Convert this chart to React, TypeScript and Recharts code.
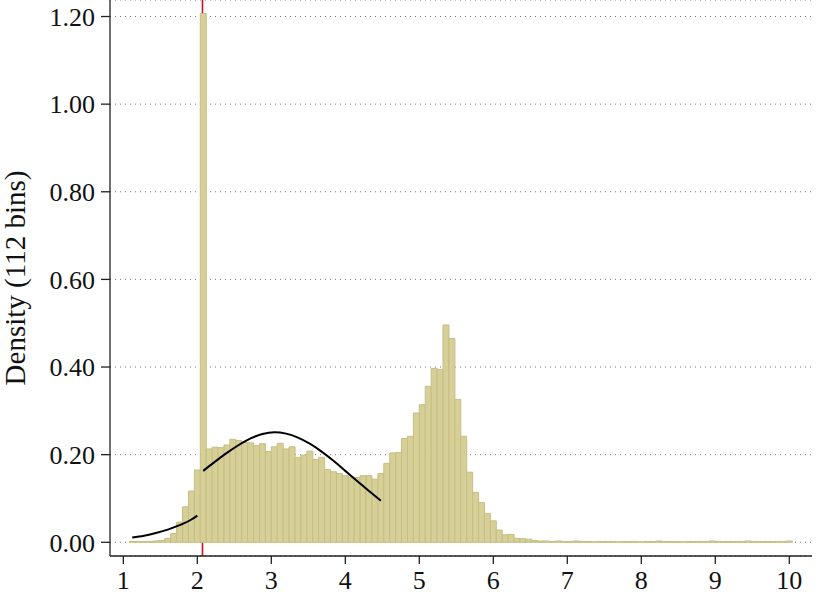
import { ComposedChart, Bar, Line, XAxis, YAxis, CartesianGrid, ReferenceLine } from 'recharts';

// histogram bins: 112 bins of width 0.08 starting at 1.08
const BIN_START = 1.08;
const BIN_WIDTH = 0.08;

const DENSITY = [
  0.002, 0.002, 0.002, 0.002, 0.003, 0.004, 0.009, 0.020, 0.046, 0.081,
  0.117, 0.165, 1.207, 0.213, 0.217, 0.216, 0.222, 0.235, 0.232, 0.228,
  0.227, 0.221, 0.225, 0.207, 0.218, 0.226, 0.213, 0.218, 0.194, 0.199,
  0.208, 0.189, 0.194, 0.166, 0.161, 0.157, 0.152, 0.149, 0.148, 0.152,
  0.152, 0.144, 0.157, 0.180, 0.204, 0.205, 0.237, 0.242, 0.295, 0.314,
  0.356, 0.397, 0.394, 0.496, 0.465, 0.326, 0.242, 0.160, 0.114, 0.091,
  0.066, 0.049, 0.028, 0.017, 0.018, 0.009, 0.008, 0.007, 0.004, 0.003,
  0.003, 0.002, 0.003, 0.002, 0.002, 0.003, 0.002, 0.002, 0.001, 0.002,
  0.002, 0.002, 0.001, 0.002, 0.002, 0.002, 0.001, 0.002, 0.002, 0.003,
  0.002, 0.002, 0.002, 0.001, 0.002, 0.002, 0.002, 0.002, 0.003, 0.002,
  0.002, 0.002, 0.002, 0.002, 0.003, 0.002, 0.002, 0.002, 0.002, 0.002,
  0.002, 0.003,
];

// fitted curve, left of the cutoff
const FIT_LEFT_X = [1.12, 1.28, 1.44, 1.6, 1.76, 1.92, 2.0];
const FIT_LEFT_Y = [0.011, 0.015, 0.021, 0.029, 0.039, 0.052, 0.061];

// fitted curve, right of the cutoff
const FIT_RIGHT_X = [2.08, 2.24, 2.4, 2.56, 2.72, 2.88, 3.04, 3.2, 3.36, 3.52, 3.68, 3.84, 4.0, 4.16, 4.32, 4.48];
const FIT_RIGHT_Y = [0.163, 0.184, 0.204, 0.222, 0.237, 0.247, 0.251, 0.248, 0.239, 0.225, 0.207, 0.186, 0.163, 0.14, 0.117, 0.095];

const CUTOFF = 2.07;

const X_TICKS = [1, 2, 3, 4, 5, 6, 7, 8, 9, 10];
const Y_TICKS = [0, 0.2, 0.4, 0.6, 0.8, 1.0, 1.2];

const FONT = '"Liberation Serif", "Times New Roman", serif';

const data = DENSITY.map((d, i) => {
  const x = Number((BIN_START + BIN_WIDTH * (i + 0.5)).toFixed(2));
  const l = FIT_LEFT_X.indexOf(x);
  const r = FIT_RIGHT_X.indexOf(x);
  return {
    x,
    density: d,
    fitLeft: l >= 0 ? FIT_LEFT_Y[l] : null,
    fitRight: r >= 0 ? FIT_RIGHT_Y[r] : null,
  };
});

const YLabel = ({ viewBox }: any) => {
  const cx = viewBox.x + 25;
  const cy = viewBox.y + viewBox.height / 2;
  return (
    <text
      x={cx}
      y={cy}
      transform={`rotate(-90 ${cx} ${cy})`}
      textAnchor="middle"
      fontFamily={FONT}
      fontSize={29}
      fill="#111"
    >
      Density (112 bins)
    </text>
  );
};

export default function App() {
  return (
    <div style={{ position: 'absolute', left: 0, top: 0, width: 830, height: 604, background: '#fff' }}>
      <ComposedChart
        width={830}
        height={604}
        data={data}
        margin={{ top: 0, right: 18, bottom: 0, left: 0 }}
        barCategoryGap={0}
        barGap={0}
      >
        <CartesianGrid vertical={false} stroke="#777" strokeDasharray="1 4" />
        <XAxis
          dataKey="x"
          type="number"
          domain={[0.82, 10.307]}
          ticks={X_TICKS}
          allowDataOverflow
          height={48}
          tickSize={8}
          tickMargin={7}
          axisLine={{ stroke: '#222', strokeWidth: 1.3 }}
          tickLine={{ stroke: '#222', strokeWidth: 1.3 }}
          tick={{ fontFamily: FONT, fontSize: 26, fill: '#111' }}
        />
        <YAxis
          type="number"
          domain={[-0.0313, 1.2377]}
          ticks={Y_TICKS}
          allowDataOverflow
          width={110}
          tickSize={9}
          tickMargin={6}
          tickFormatter={(v: number) => v.toFixed(2)}
          axisLine={{ stroke: '#222', strokeWidth: 1.3 }}
          tickLine={{ stroke: '#222', strokeWidth: 1.3 }}
          tick={{ fontFamily: FONT, fontSize: 26, fill: '#111' }}
          label={<YLabel />}
        />
        <ReferenceLine x={CUTOFF} stroke="#c8102e" strokeWidth={1.6} zIndex={50} />
        <Bar
          dataKey="density"
          fill="#d6cf98"
          stroke="#c6be82"
          strokeWidth={1}
          isAnimationActive={false}
        />
        <Line
          dataKey="fitLeft"
          type="monotone"
          stroke="#000"
          strokeWidth={2}
          dot={false}
          connectNulls
          isAnimationActive={false}
        />
        <Line
          dataKey="fitRight"
          type="monotone"
          stroke="#000"
          strokeWidth={2}
          dot={false}
          connectNulls
          isAnimationActive={false}
        />
      </ComposedChart>
    </div>
  );
}
